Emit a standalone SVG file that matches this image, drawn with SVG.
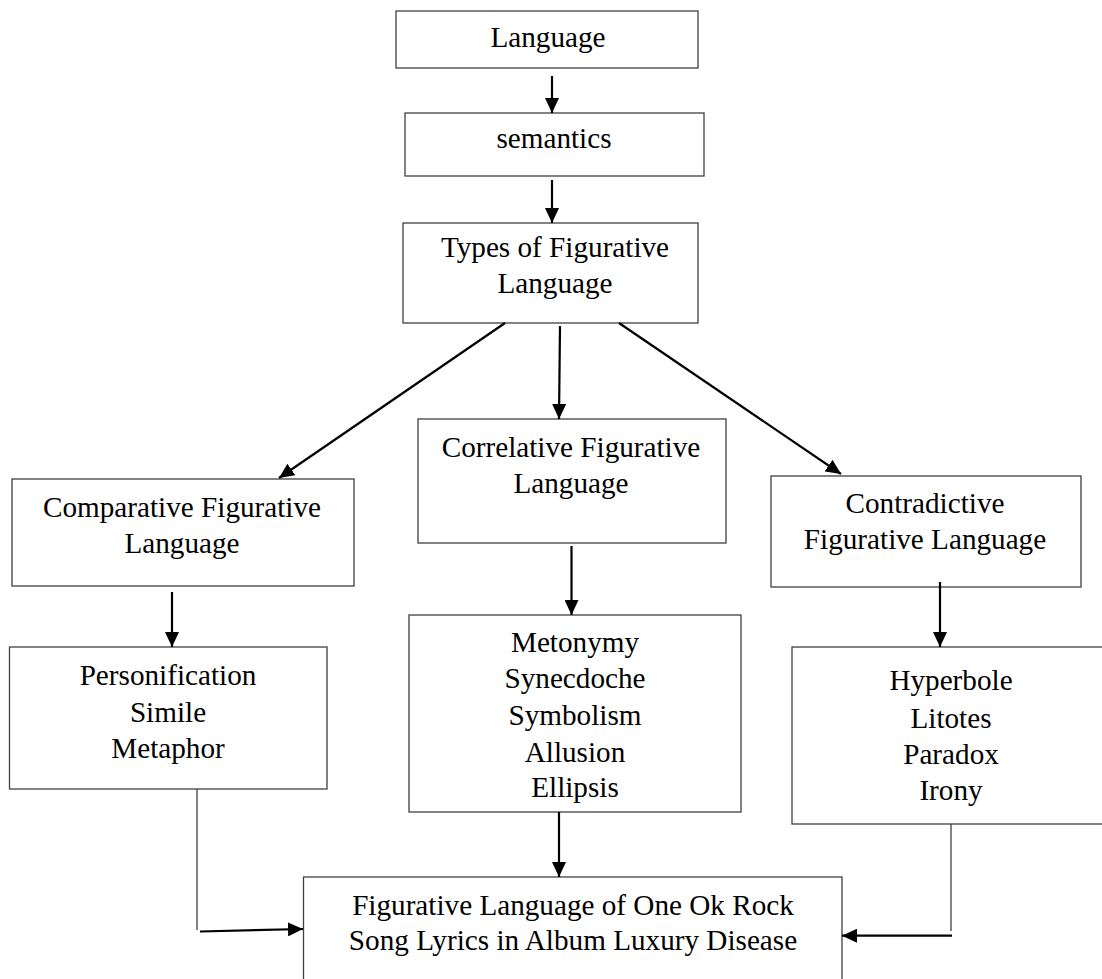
<svg xmlns="http://www.w3.org/2000/svg" width="1102" height="979" viewBox="0 0 1102 979">
<style>
.box{fill:#fff;stroke:#404040;stroke-width:1.3}
.t{font-family:"Liberation Serif","Times New Roman",serif;font-size:29.2px;fill:#000;text-anchor:middle}
.arr{stroke:#000;stroke-width:2.2;fill:none;marker-end:url(#ah)}
.thin{stroke:#404040;stroke-width:1.3;fill:none}
</style>
<defs>
<marker id="ah" markerUnits="userSpaceOnUse" markerWidth="16" markerHeight="14" refX="15" refY="7" orient="auto">
<path d="M0,0 L15,7 L0,14 z" fill="#000"/>
</marker>
</defs>
<rect width="1102" height="979" fill="#fff"/>
<g id="n-language"><rect class="box" x="396" y="11" width="302" height="57"/><text class="t" x="548" y="47">Language</text></g>
<g id="n-semantics"><rect class="box" x="405" y="113" width="299" height="63"/><text class="t" x="554" y="148">semantics</text></g>
<g id="n-types"><rect class="box" x="403" y="223" width="295" height="100"/><text class="t" x="555" y="257">Types of Figurative</text><text class="t" x="555" y="293">Language</text></g>
<g id="n-comparative"><rect class="box" x="12" y="479" width="342" height="107"/><text class="t" x="182" y="517">Comparative Figurative</text><text class="t" x="182" y="553">Language</text></g>
<g id="n-correlative"><rect class="box" x="418" y="419" width="308" height="124"/><text class="t" x="571" y="457">Correlative Figurative</text><text class="t" x="571" y="493">Language</text></g>
<g id="n-contradictive"><rect class="box" x="771" y="476" width="310" height="111"/><text class="t" x="925" y="513">Contradictive</text><text class="t" x="925" y="549">Figurative Language</text></g>
<g id="n-comparative-types"><rect class="box" x="9.5" y="647" width="317.5" height="142"/><text class="t" x="168" y="685">Personification</text><text class="t" x="168" y="722">Simile</text><text class="t" x="168" y="758">Metaphor</text></g>
<g id="n-correlative-types"><rect class="box" x="409" y="615" width="332" height="197"/><text class="t" x="575" y="652">Metonymy</text><text class="t" x="575" y="688">Synecdoche</text><text class="t" x="575" y="725">Symbolism</text><text class="t" x="575" y="762">Allusion</text><text class="t" x="575" y="797">Ellipsis</text></g>
<g id="n-contradictive-types"><rect class="box" x="792" y="647" width="325" height="177"/><text class="t" x="951" y="690">Hyperbole</text><text class="t" x="951" y="728">Litotes</text><text class="t" x="951" y="764">Paradox</text><text class="t" x="951" y="800">Irony</text></g>
<g id="n-result"><rect class="box" x="303.5" y="877" width="538.5" height="130"/><text class="t" x="573" y="915">Figurative Language of One Ok Rock</text><text class="t" x="573" y="950">Song Lyrics in Album Luxury Disease</text></g>
<g id="connectors">
<line class="arr" x1="552" y1="76" x2="552" y2="113"/>
<line class="arr" x1="552" y1="180" x2="552" y2="223"/>
<line class="arr" x1="505" y1="323" x2="279" y2="478"/>
<line class="arr" x1="560" y1="326" x2="559" y2="419"/>
<line class="arr" x1="619" y1="323" x2="841" y2="474"/>
<line class="arr" x1="172" y1="592" x2="172" y2="647"/>
<line class="arr" x1="571.5" y1="546" x2="571.5" y2="615"/>
<line class="arr" x1="940" y1="582" x2="940" y2="647"/>
<line class="arr" x1="559" y1="812" x2="559" y2="877"/>
<line class="thin" x1="197" y1="789" x2="197" y2="930"/>
<line class="arr" x1="200" y1="931.5" x2="303" y2="929"/>
<line class="thin" x1="951" y1="824" x2="951" y2="931"/>
<line class="arr" x1="952" y1="935.7" x2="842" y2="935.7"/>
</g>
</svg>
